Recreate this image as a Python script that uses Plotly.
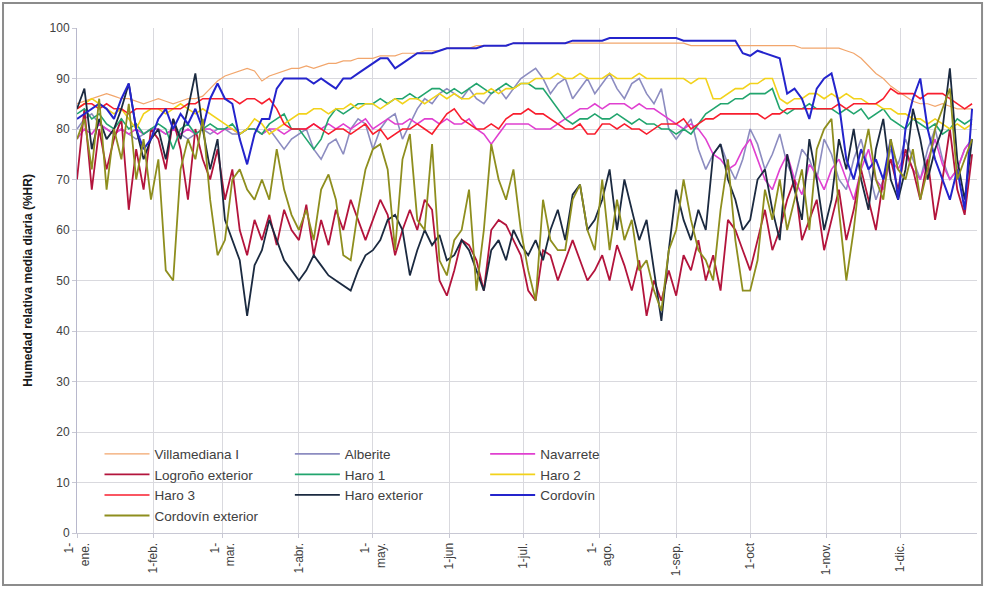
import pandas as pd
import plotly.graph_objects as go

# Sample dates: one reading every 3 days across the year
dates = pd.date_range("2009-01-01", periods=122, freq="3D")

month_ticks = ["2009-01-01", "2009-02-01", "2009-03-01", "2009-04-01", "2009-05-01", "2009-06-01",
               "2009-07-01", "2009-08-01", "2009-09-01", "2009-10-01", "2009-11-01", "2009-12-01"]
month_labels = ["1-<br>ene.", "1-feb.", "1-<br>mar.", "1-abr.", "1-<br>may.", "1-jun",
                "1-jul.", "1-<br>ago.", "1-sep.", "1-oct", "1-nov.", "1-dic."]

villamediana = [85, 85.5, 86, 86.5, 87, 86.5, 86, 86, 85.5, 85, 85.5,
                86, 85.5, 85, 85.5, 86, 86, 86.5, 88, 89.5,
                90.5, 91, 91.5, 92, 91.5, 89.5, 90.5, 91, 91.5, 92,
                92, 92.5, 92, 92.5, 93, 93, 93.5, 93.5, 94, 94,
                94, 94.5, 94.5, 94.5, 95, 95, 95, 95.5, 95.5, 95.5, 96,
                96, 96, 96, 96.5, 96.5, 96.5, 96.5, 96.5, 97, 97,
                97, 97, 97, 97, 97, 97, 97, 97, 97, 97,
                97, 97, 97, 97, 97, 97, 97, 97, 97, 97,
                97, 97, 96.5, 96.5, 96.5, 96.5, 96.5, 96.5, 96.5, 96.5,
                96.5, 96.5, 96.5, 96.5, 96.5, 96.5, 96.5, 96, 96, 96, 96,
                96, 96, 95.5, 95, 94, 92.5, 91, 90, 88.5, 87.5,
                86.5, 85.5, 85, 85, 84.5, 85, 84.5, 84, 84, 84]

alberite = [80, 82, 83, 81, 80, 79, 80, 79, 78, 79, 80,
            80, 79, 80, 79, 78, 79, 80, 79, 80,
            80, 79, 79, 80, 80, 79, 80, 78, 76, 78,
            79, 80, 76, 74, 77, 78, 75, 80, 82, 81,
            76, 80, 82, 83, 78, 81, 84, 86, 85, 87, 88,
            87, 86, 88, 86, 85, 87, 88, 86, 88, 90,
            91, 92, 90, 87, 89, 90, 86, 88, 90, 87,
            89, 91, 88, 86, 89, 90, 87, 85, 88, 80,
            78, 80, 82, 76, 72, 75, 77, 73, 70, 74,
            80, 77, 72, 75, 79, 73, 70, 76, 74, 70, 78,
            75, 70, 68, 74, 78, 72, 66, 70, 76, 73,
            78, 74, 70, 76, 80, 74, 70, 72, 76, 78]

navarrete = [78, 80, 79, 81, 80, 79, 80, 79, 80, 79, 80,
             80, 79, 80, 79, 80, 79, 80, 80, 79,
             80, 80, 79, 80, 80, 79, 80, 80, 79, 80,
             80, 80, 81, 80, 81, 80, 81, 80, 81, 82,
             80, 81, 82, 81, 81, 82, 81, 82, 82, 81, 82,
             81, 81, 82, 80, 79, 77, 79, 81, 81, 81,
             81, 80, 80, 80, 81, 82, 83, 84, 84, 85,
             84, 85, 85, 85, 84, 85, 84, 84, 83, 82,
             81, 80, 81, 80, 78, 75, 74, 72, 73, 76,
             78, 74, 70, 68, 72, 75, 70, 67, 73, 71, 68,
             72, 74, 70, 66, 72, 76, 70, 68, 74, 72,
             75, 72, 70, 74, 78, 73, 70, 72, 76, 78]

logrono_ext = [70, 84, 68, 80, 72, 78, 82, 64, 76, 68, 80,
               78, 72, 82, 76, 66, 80, 74, 70, 76,
               66, 72, 60, 55, 62, 58, 63, 57, 64, 60,
               58, 65, 55, 62, 57, 64, 60, 66, 62, 58,
               62, 66, 63, 55, 60, 64, 60, 66, 64, 50, 47,
               52, 58, 57, 54, 48, 60, 62, 61, 58, 55,
               48, 46, 56, 55, 50, 54, 58, 54, 50, 52,
               55, 50, 57, 53, 48, 54, 43, 50, 46, 52,
               47, 55, 52, 58, 50, 55, 48, 62, 60, 56,
               52, 58, 64, 56, 60, 66, 70, 58, 62, 66, 56,
               62, 68, 58, 64, 72, 66, 60, 70, 74, 68,
               76, 72, 66, 74, 62, 70, 80, 68, 63, 75]

haro1 = [83, 84, 82, 83, 81, 80, 82, 80, 81, 79, 80,
         81, 80, 76, 80, 81, 79, 80, 81, 80,
         80, 81, 79, 80, 80, 79, 81, 82, 83, 80,
         80, 78, 76, 78, 82, 84, 83, 84, 85, 85,
         85, 86, 85, 86, 86, 87, 86, 87, 88, 88, 87,
         88, 87, 88, 89, 88, 87, 88, 89, 88, 89,
         89, 88, 88, 86, 84, 82, 81, 82, 82, 83,
         82, 82, 83, 82, 81, 82, 81, 81, 80, 80,
         79, 80, 79, 81, 83, 84, 85, 85, 86, 86,
         87, 87, 87, 88, 84, 83, 84, 84, 85, 84, 84,
         84, 83, 84, 83, 84, 82, 83, 84, 82, 81,
         80, 82, 81, 80, 81, 79, 80, 82, 81, 82]

haro2 = [84, 85, 86, 85, 84, 83, 84, 82, 80, 83, 84,
         84, 83, 84, 85, 84, 83, 84, 83, 82,
         81, 80, 79, 80, 82, 81, 79, 80, 81, 82,
         83, 83, 84, 84, 83, 84, 84, 85, 84, 85,
         85, 84, 85, 86, 85, 86, 86, 85, 86, 87, 86,
         87, 86, 86, 87, 87, 88, 87, 88, 88, 89,
         89, 90, 90, 90, 91, 90, 90, 91, 90, 90,
         90, 91, 90, 90, 90, 91, 90, 90, 90, 90,
         90, 90, 89, 90, 90, 86, 86, 87, 88, 88,
         89, 89, 90, 90, 86, 85, 86, 86, 87, 87, 86,
         87, 86, 87, 86, 86, 85, 85, 84, 84, 83,
         83, 82, 82, 81, 82, 81, 80, 81, 80, 81]

haro3 = [84, 85, 85, 84, 85, 84, 84, 83, 84, 84, 84,
         84, 84, 84, 84, 85, 85, 86, 86, 86,
         86, 86, 85, 86, 86, 85, 86, 84, 81, 80,
         80, 80, 81, 80, 79, 80, 80, 79, 80, 81,
         79, 80, 78, 79, 80, 80, 81, 80, 79, 81, 83,
         84, 82, 81, 80, 80, 81, 80, 82, 83, 83,
         84, 83, 83, 82, 81, 80, 80, 81, 79, 79,
         81, 81, 80, 81, 80, 80, 79, 80, 81, 81,
         81, 82, 80, 81, 82, 82, 83, 83, 83, 83,
         83, 83, 82, 83, 83, 84, 84, 84, 84, 84, 84,
         84, 85, 84, 85, 85, 85, 85, 86, 88, 87,
         87, 87, 86, 87, 87, 87, 86, 85, 84, 85]

haro_ext = [84, 88, 76, 82, 78, 80, 84, 89, 80, 74, 78,
            80, 74, 82, 78, 84, 91, 80, 72, 78,
            62, 58, 54, 43, 53, 56, 62, 58, 54, 52,
            50, 52, 55, 53, 51, 50, 49, 48, 52, 55,
            56, 58, 62, 63, 60, 51, 56, 60, 57, 59, 54,
            55, 58, 56, 52, 48, 56, 58, 54, 60, 57,
            55, 58, 54, 60, 64, 58, 67, 69, 60, 62,
            66, 72, 60, 70, 64, 58, 62, 52, 42, 56,
            68, 62, 58, 64, 60, 75, 77, 70, 66, 60,
            62, 70, 72, 64, 58, 75, 68, 62, 78, 70, 60,
            66, 78, 72, 80, 70, 64, 76, 82, 70, 66,
            72, 84, 78, 70, 76, 80, 92, 74, 66, 78]

cordovin = [82, 83, 84, 85, 84, 82, 86, 89, 80, 76, 78,
            82, 84, 80, 83, 81, 84, 80, 86, 89,
            86, 85, 78, 73, 79, 82, 82, 88, 90, 90,
            90, 90, 89, 90, 89, 88, 90, 90, 91, 92,
            93, 94, 94, 92, 93, 94, 95, 95, 95, 95.5, 96,
            96, 96, 96, 96, 96.5, 96.5, 96.5, 96.5, 97, 97,
            97, 97, 97, 97, 97, 97, 97.5, 97.5, 97.5, 97.5,
            97.5, 98, 98, 98, 98, 98, 98, 98, 98, 98,
            98, 97.5, 97.5, 97.5, 97.5, 97.5, 97.5, 97.5, 97.5, 95,
            94.5, 95.5, 95, 94.5, 94, 87, 88, 86, 82, 88, 90,
            91, 85, 74, 70, 76, 72, 74, 70, 78, 66,
            80, 86, 90, 80, 74, 70, 66, 72, 64, 84]

cordovin_ext = [78, 82, 72, 86, 68, 80, 74, 85, 70, 78, 66,
                74, 52, 50, 72, 78, 74, 82, 66, 55,
                58, 70, 72, 68, 66, 70, 66, 76, 68, 63,
                60, 64, 58, 68, 71, 66, 55, 54, 64, 72,
                76, 77, 72, 56, 74, 79, 62, 60, 77, 54, 51,
                58, 60, 68, 48, 60, 77, 70, 66, 72, 60,
                52, 46, 66, 58, 56, 56, 66, 69, 60, 56,
                70, 56, 66, 58, 62, 52, 54, 48, 44, 56,
                60, 70, 62, 56, 54, 50, 64, 74, 58, 48,
                48, 54, 68, 62, 70, 60, 66, 72, 60, 76, 80,
                82, 64, 50, 60, 73, 80, 70, 66, 78, 72,
                70, 76, 66, 72, 80, 84, 88, 70, 74, 78]

series = [
    ("Villamediana I", villamediana, "#F2A66C", 1.2, "legend"),
    ("Alberite", alberite, "#8C8CC0", 1.6, "legend2"),
    ("Navarrete", navarrete, "#E040D0", 1.6, "legend3"),
    ("Logroño exterior", logrono_ext, "#B3143C", 1.8, "legend"),
    ("Haro 1", haro1, "#22A56E", 1.6, "legend2"),
    ("Haro 2", haro2, "#F2D21B", 1.6, "legend3"),
    ("Haro 3", haro3, "#F81E2E", 1.6, "legend"),
    ("Haro exterior", haro_ext, "#1B2A40", 1.8, "legend2"),
    ("Cordovín", cordovin, "#2424CC", 2.0, "legend3"),
    ("Cordovín exterior", cordovin_ext, "#8E8E1E", 1.8, "legend"),
]

for name, vals, _, _, _ in series:
    assert len(vals) == len(dates), (name, len(vals))

fig = go.Figure()
for name, vals, color, width, leg in series:
    fig.add_trace(go.Scatter(x=dates, y=vals, mode="lines", name=name,
                             line=dict(color=color, width=width), legend=leg))

FONT = "Liberation Sans, Arial, sans-serif"
legend_common = dict(font=dict(family=FONT, size=13.5, color="#404040"), bgcolor="rgba(0,0,0,0)",
                     orientation="v", xanchor="left", yanchor="top", y=0.187, itemwidth=45,
                     tracegroupgap=0)

fig.update_layout(
    width=985, height=589,
    margin=dict(l=77, r=8, t=28, b=56),
    paper_bgcolor="white", plot_bgcolor="white",
    font=dict(family=FONT, size=12, color="#404040"),
    legend=dict(x=0.025, **legend_common),
    legend2=dict(x=0.2365, **legend_common),
    legend3=dict(x=0.4535, **legend_common),
    xaxis=dict(type="date", range=["2009-01-01", "2010-01-01"], tickvals=month_ticks, ticktext=month_labels,
               tickangle=-90, tickfont=dict(size=12, color="#404040"), showgrid=True, gridcolor="#D9D9DE",
               showline=True, linecolor="#C8C8D4", ticks="outside", ticklen=4, tickcolor="#C8C8D4", zeroline=False),
    yaxis=dict(range=[0, 100], dtick=10, tickfont=dict(size=12, color="#404040"), showgrid=True,
               gridcolor="#D9D9DE", showline=True, linecolor="#B8B8CC", ticks="outside", ticklen=4,
               tickcolor="#C8C8D4", zeroline=False,
               title=dict(text="Humedad relativa media diaria (%HR)", standoff=14,
                          font=dict(family=FONT, size=12, color="#1A1A1A", weight="bold"))),
    shapes=[dict(type="rect", xref="paper", yref="paper", x0=-0.0822, x1=1.0056, y0=-0.103, y1=1.0495,
                 line=dict(color="#8C8C8C", width=2), layer="above")],
)

fig.write_html("out.html", config={"displayModeBar": False},
               post_script="document.body.style.margin='0px';")
